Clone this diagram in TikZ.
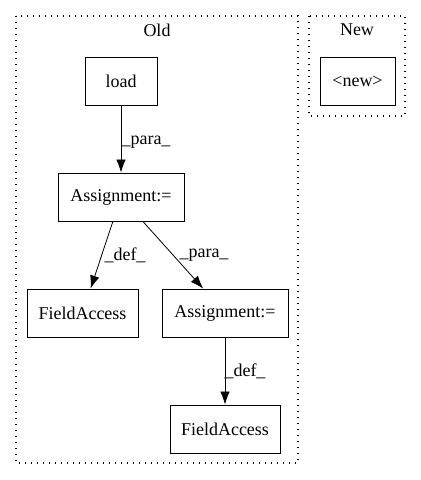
\documentclass[tikz,border=0pt]{standalone}
\usepackage{fontspec}
\setmainfont{Liberation Serif}
\usetikzlibrary{arrows.meta}
\begin{document}
\begin{tikzpicture}[x=1pt,y=-1pt,
  box/.style={draw, line width=0.9pt, minimum height=48pt, inner sep=0pt, font=\fontsize{18}{20}\selectfont},
  cluster/.style={draw, line width=1.1pt, dash pattern=on 1.3pt off 4.7pt},
  edge/.style={-{Latex[length=13pt,width=9.5pt]}, line width=0.8pt},
  lbl/.style={font=\fontsize{18}{20}\selectfont, inner sep=0pt}]
\useasboundingbox (0,0) rectangle (421,480);
\draw[cluster] (16,16) rectangle (298,463);
\draw[cluster] (309,16) rectangle (405,116);
\node[lbl] (told) at (157,30) {Old};
\node[lbl] (tnew) at (357,30) {New};
\node[box, minimum width=72pt] (load) at (121,81) {load};
\node[box, minimum width=126pt] (a1) at (121,197) {Assignment:=};
\node[box, minimum width=111pt] (f1) at (82.5,313) {FieldAccess};
\node[box, minimum width=126pt] (a2) at (225,313) {Assignment:=};
\node[box, minimum width=110pt] (f2) at (225,429) {FieldAccess};
\node[box, minimum width=75pt] (nw) at (357.5,81) {<new>};
\draw[edge] (load) -- (a1);
\draw[edge] (a1) -- (f1);
\draw[edge] (a1) -- (a2);
\draw[edge] (a2) -- (f2);
\node[lbl] (l1) at (146,142) {\_para\_};
\node[lbl] (l2) at (125,255) {\_def\_};
\node[lbl] (l3) at (204,255) {\_para\_};
\node[lbl] (l4) at (245,371) {\_def\_};
\end{tikzpicture}
\end{document}
